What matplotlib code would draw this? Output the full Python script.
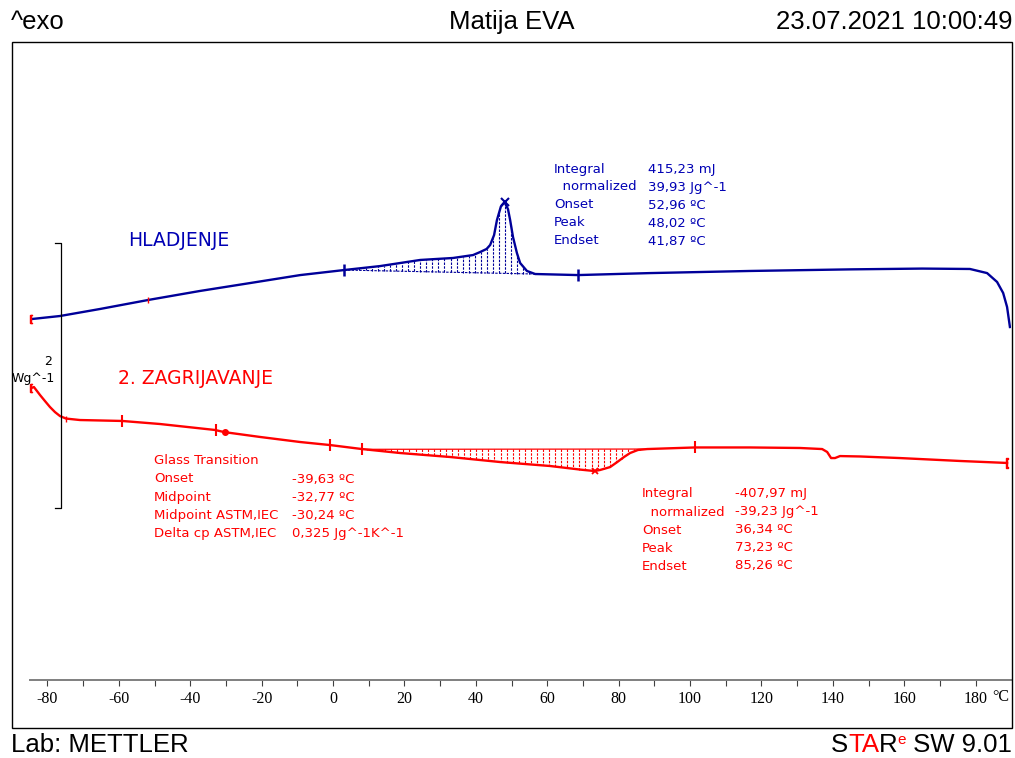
import matplotlib
matplotlib.use("Agg")
import matplotlib.pyplot as plt
import numpy as np
from matplotlib.patches import Rectangle

W, H = 1015, 758
BLUE = "#000099"
TXT_BLUE = "#0000b4"
RED = "#ff0000"

# cooling run (HLADJENJE): temperature in degC, heat flow in W/g (offset)
cool_t = [-84.5, -76.5, -65.3, -51.8, -37.3, -23.2, -9.2, 3.1, 13.2, 24.4,
          33.6, 39.2, 41.2, 43.0, 44.0, 45.1, 45.9, 47.0, 48.02, 49.0, 49.6, 50.4,
          51.5, 52.4, 54.3, 56.6, 68.6, 88.8, 116.8, 144.8, 165.0, 178.4, 183.2,
          186.0, 187.7, 188.8, 189.6]
cool_y = [0.611, 0.634, 0.687, 0.755, 0.823, 0.883, 0.943, 0.981, 1.011, 1.057,
          1.072, 1.094, 1.117, 1.140, 1.170, 1.245, 1.358, 1.460, 1.494, 1.440, 1.358, 1.230,
          1.109, 1.034, 0.974, 0.951, 0.943, 0.958, 0.974, 0.986, 0.992, 0.989, 0.958,
          0.891, 0.808, 0.702, 0.551]

# second heating run (2. ZAGRIJAVANJE)
heat_t = [-84.5, -83.8, -82.1, -80.7, -79.3, -77.9, -76.5, -74.8, -70.9, -59.1,
          -48.5, -33.1, -30.5, -20.4, -9.2, -0.8, 8.1, 18.8, 32.8, 46.8, 60.8,
          69.2, 73.23, 74.8, 77.6, 79.6, 81.5, 83.2, 85.4, 88.0, 101.4, 116.8,
          130.8, 137.0, 138.4, 139.5, 140.6, 142.0, 147.6, 158.8, 175.6, 188.8]
heat_y = [0.091, 0.098, 0.038, -0.008, -0.053, -0.091, -0.121, -0.140, -0.151, -0.158,
          -0.181, -0.226, -0.242, -0.279, -0.317, -0.340, -0.370, -0.400, -0.430, -0.468, -0.498,
          -0.525, -0.536, -0.528, -0.506, -0.468, -0.430, -0.400, -0.377, -0.370, -0.358, -0.358,
          -0.362, -0.370, -0.392, -0.438, -0.438, -0.423, -0.426, -0.438, -0.460, -0.475]

# evaluation limits / markers
cool_limits = [3.1, 68.6]
cool_peak = 48.02
cool_base = ([3.1, 56.6], [0.981, 0.951])
heat_limits = [-59.1, -32.77, -0.8, 8.1, 101.4]
heat_tg_mid = -30.24
heat_peak = 73.23
heat_base = ([8.1, 88.0], [-0.372, -0.370])
scale_len = 2.0

cool_rows = [("Integral", "415,23 mJ"), ("  normalized", "39,93 Jg^-1"),
             ("Onset", "52,96 ºC"), ("Peak", "48,02 ºC"), ("Endset", "41,87 ºC")]
tg_rows = [("Glass Transition", ""), ("Onset", "-39,63 ºC"), ("Midpoint", "-32,77 ºC"),
           ("Midpoint ASTM,IEC", "-30,24 ºC"), ("Delta cp ASTM,IEC", "0,325 Jg^-1K^-1")]
heat_rows = [("Integral", "-407,97 mJ"), ("  normalized", "-39,23 Jg^-1"),
             ("Onset", "36,34 ºC"), ("Peak", "73,23 ºC"), ("Endset", "85,26 ºC")]

ticks = list(range(-80, 190, 10))
tick_labels = [str(t) if t % 20 == 0 else "" for t in ticks]

HEAD = ["Liberation Sans", "DejaVu Sans"]
ANNO = ["DejaVu Sans"]
HSIZE = 18.5


def fx(px):
    return px / W


def fy(py):
    return 1 - py / H


fig = plt.figure(figsize=(W / 100, H / 100), dpi=100)
ax = fig.add_axes([fx(30), fy(680), fx(1011) - fx(30), fy(42) - fy(680)])
ax.set_xlim(-84.9, 189.9)
ax.set_ylim(-2.113, 2.702)
for s in ("top", "left", "right"):
    ax.spines[s].set_visible(False)
ax.spines["bottom"].set_color("#7f7f7f")
ax.spines["bottom"].set_linewidth(1.4)
ax.set_yticks([])
ax.set_xticks(ticks)
ax.set_xticklabels(tick_labels, family=["Liberation Serif"], fontsize=11.5)
ax.tick_params(axis="x", direction="out", length=4, width=0.8, color="#404040", pad=4)
ax.patch.set_alpha(0)

# curves
ax.plot(cool_t, cool_y, color=BLUE, lw=1.7, solid_joinstyle="round")
ax.plot(heat_t, heat_y, color=RED, lw=1.7, solid_joinstyle="round")

# hatched integration areas
ct = np.arange(4.0, 56.0, 1.7)
cb = np.interp(ct, *cool_base)
cc = np.interp(ct, cool_t, cool_y)
ax.vlines(ct, cb, cc, colors=BLUE, linewidth=0.8, linestyles=(0, (2.2, 1.2)))
ax.plot(*cool_base, color=BLUE, lw=0.8, ls=(0, (2.2, 1.2)))

ht = np.arange(9.5, 88.0, 1.7)
hb = np.interp(ht, *heat_base)
hc = np.interp(ht, heat_t, heat_y)
ax.vlines(ht, hb, hc, colors=RED, linewidth=0.8, linestyles=(0, (2.2, 1.2)))
ax.plot(*heat_base, color=RED, lw=0.9)

# limit ticks and peak markers
ax.plot(cool_limits, np.interp(cool_limits, cool_t, cool_y), ls="none",
        marker="|", ms=9, mew=1.8, color=BLUE)
ax.plot([-51.8], np.interp([-51.8], cool_t, cool_y), ls="none",
        marker="|", ms=5, mew=1, color=RED)
ax.plot([cool_peak], np.interp([cool_peak], cool_t, cool_y), ls="none",
        marker="x", ms=6, mew=1.5, color=BLUE)
ax.plot(heat_limits, np.interp(heat_limits, heat_t, heat_y), ls="none",
        marker="|", ms=8, mew=1.5, color=RED)
ax.plot([-74.8], np.interp([-74.8], heat_t, heat_y), ls="none",
        marker="|", ms=5, mew=1, color=RED)
ax.plot([heat_tg_mid], np.interp([heat_tg_mid], heat_t, heat_y), ls="none",
        marker="o", ms=4, color=RED)
ax.plot([heat_peak], np.interp([heat_peak], heat_t, heat_y), ls="none",
        marker="x", ms=5, mew=1.3, color=RED)
ax.plot([cool_t[0], heat_t[0]], [cool_y[0], heat_y[0]], ls="none",
        marker=r"$[$", ms=6, color=RED, clip_on=False)
ax.plot([heat_t[-1]], [heat_y[-1]], ls="none", marker=r"$[$", ms=7, color=RED)

# scale bar: 2 W/g
sx, sy0 = -76.2, -0.815
ax.plot([sx - 1.7, sx, sx, sx - 1.7], [sy0, sy0, sy0 + scale_len, sy0 + scale_len],
        color="black", lw=0.9, clip_on=False)
ax.text(-78.7, 0.287, "2", ha="right", va="center", fontsize=9, family=ANNO, clip_on=False)
ax.text(-78.0, 0.166, "Wg^-1", ha="right", va="center", fontsize=9, family=ANNO, clip_on=False)

fig.text(fx(992), fy(697), "°C", ha="left", va="center",
         fontsize=11.5, family=["Liberation Serif"])

# curve labels
fig.text(fx(128), fy(241), "HLADJENJE", color=TXT_BLUE, fontsize=13.5, family=ANNO, va="center")
fig.text(fx(118), fy(378), "2. ZAGRIJAVANJE", color=RED, fontsize=13.5, family=ANNO, va="center")


def block(rows, x0, x1, y0, color):
    for i, (k, v) in enumerate(rows):
        y = y0 + i * 18
        fig.text(fx(x0), fy(y), k, color=color, fontsize=9.5, family=ANNO, va="center")
        if v:
            fig.text(fx(x1), fy(y), v, color=color, fontsize=9.5, family=ANNO, va="center")


block(cool_rows, 554, 648, 169, TXT_BLUE)
block(tg_rows, 154, 292, 461, RED)
block(heat_rows, 642, 735, 494, RED)

# frame, header and footer
fig.add_artist(Rectangle((fx(12), fy(728)), fx(1012) - fx(12), fy(42) - fy(728),
                         transform=fig.transFigure, fill=False, ec="black", lw=1))
fig.text(fx(11), fy(22), "^exo", fontsize=HSIZE, family=HEAD, va="center")
fig.text(fx(512), fy(22), "Matija EVA", fontsize=HSIZE, family=HEAD, va="center", ha="center")
fig.text(fx(1012), fy(22), "23.07.2021 10:00:49", fontsize=HSIZE, family=HEAD,
         va="center", ha="right")
fig.text(fx(11), fy(745), "Lab: METTLER", fontsize=HSIZE, family=HEAD, va="center")

renderer = fig.canvas.get_renderer()
right = fx(1012)
parts = [(" SW 9.01", "black", HSIZE, 0), ("e", RED, 11, 5), ("R", "black", HSIZE, 0),
         ("TA", RED, HSIZE, 0), ("S", "black", HSIZE, 0)]
for s, c, size, dy in parts:
    t = fig.text(right, fy(745 - dy), s, color=c, fontsize=size, family=HEAD,
                 va="center", ha="right")
    bb = t.get_window_extent(renderer)
    right = bb.x0 / W

fig.savefig("out.png", dpi=100)
